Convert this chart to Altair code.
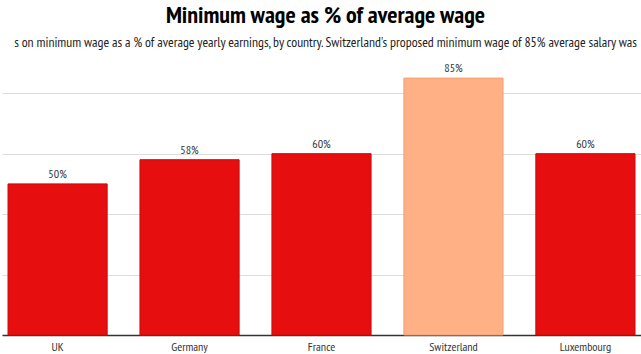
import altair as alt
import pandas as pd

countries = ["UK", "Germany", "France", "Switzerland", "Luxembourg"]
values = [50, 58, 60, 85, 60]
groups = ["actual", "actual", "actual", "proposed", "actual"]
labels = ["50%", "58%", "60%", "85%", "60%"]

df = pd.DataFrame({"country": countries, "value": values, "group": groups, "label": labels})

FONT = "PT Sans Narrow, Roboto Condensed, sans-serif"

x = alt.X("country:N", sort=countries, title=None,
          scale=alt.Scale(paddingInner=0.2486, paddingOuter=0.0455),
          axis=alt.Axis(labelAngle=0, ticks=False, domainColor="#333333", domainWidth=1.5,
                        labelColor="#333333", labelFontSize=12, labelFont=FONT, labelPadding=6))

bars = alt.Chart(df).mark_bar(strokeWidth=1).encode(
    x=x,
    y=alt.Y("value:Q", title=None,
            scale=alt.Scale(domain=[0, 90], nice=False),
            axis=alt.Axis(values=[0, 20, 40, 60, 80], labels=False, ticks=False, domain=False,
                          gridColor="#dddddd", gridWidth=1)),
    color=alt.Color("group:N", legend=None,
                    scale=alt.Scale(domain=["actual", "proposed"], range=["#e60e0e", "#ffb085"])),
    stroke=alt.Stroke("group:N", legend=None,
                      scale=alt.Scale(domain=["actual", "proposed"], range=["#d00a0a", "#f5a070"])),
)

text = alt.Chart(df).mark_text(dy=-3, baseline="bottom", fontSize=12, font=FONT, color="#333333").encode(
    x=alt.X("country:N", sort=countries),
    y="value:Q",
    text="label:N",
)

chart = (bars + text).properties(
    width=639, height=272,
    padding={"left": 2, "top": 63, "right": 0, "bottom": 19},
    autosize=alt.AutoSizeParams(type="none"),
    title=alt.Title(
        "Minimum wage as % of average wage",
        subtitle="s on minimum wage as a % of average yearly earnings, by country. Switzerland's proposed minimum wage of 85% average salary was",
        anchor="middle", font=FONT, fontSize=24, fontWeight="bold", color="#000000",
        subtitleFont=FONT, subtitleFontSize=13.7, subtitleColor="#222222",
        offset=12, subtitlePadding=8, dx=4,
    ),
).configure_view(stroke=None)

chart.save("out.html", embed_options={"renderer": "svg", "actions": False})
